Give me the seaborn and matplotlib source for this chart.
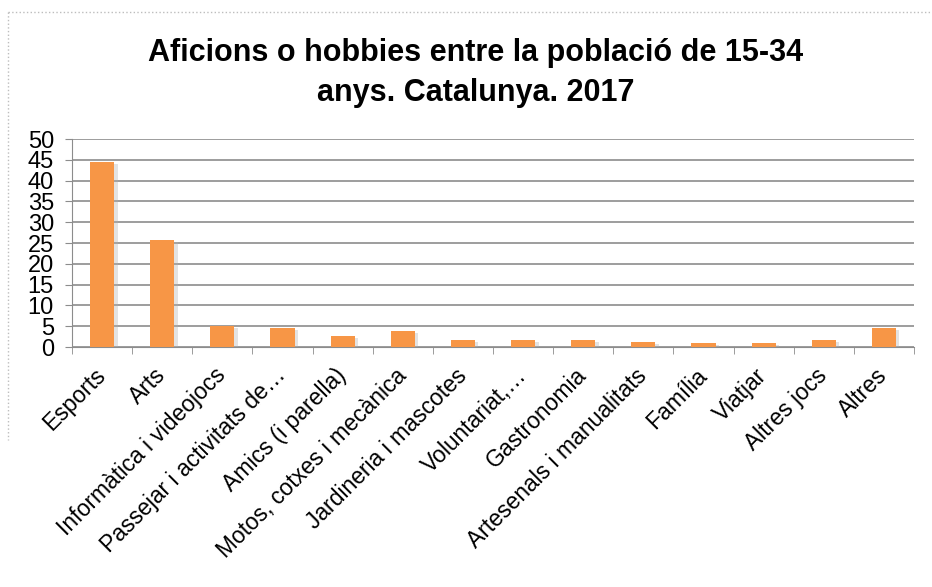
import matplotlib
matplotlib.use("Agg")
import matplotlib.pyplot as plt
import matplotlib.patheffects as pe
from matplotlib.lines import Line2D
import seaborn as sns
import pandas as pd
import numpy as np

categories = ["Esports", "Arts", "Informàtica i videojocs", "Passejar i activitats de…",
              "Amics (i parella)", "Motos, cotxes i mecànica", "Jardineria i mascotes",
              "Voluntariat,…", "Gastronomia", "Artesenals i manualitats", "Família",
              "Viatjar", "Altres jocs", "Altres"]
values = [44.5, 25.8, 5.1, 4.6, 2.7, 3.9, 1.8, 1.8, 1.8, 1.3, 1.0, 1.0, 1.8, 4.6]
yticks = [0, 5, 10, 15, 20, 25, 30, 35, 40, 45, 50]
title = "Aficions o hobbies entre la població de 15-34\nanys. Catalunya. 2017"

sns.set_style("white")
plt.rcParams['font.family'] = ['Liberation Sans', 'DejaVu Sans']
plt.rcParams['text.color'] = 'black'

df = pd.DataFrame({"cat": categories, "val": values})

W, H = 932, 587
fig = plt.figure(figsize=(W / 100, H / 100), dpi=100)
ax = fig.add_axes([72 / W, 1 - 347 / H, 842 / W, 208 / H])

sns.barplot(data=df, x="cat", y="val", color="#F79646", saturation=1, width=0.4, ax=ax, zorder=3)
for p in ax.patches:
    p.set_path_effects([pe.SimplePatchShadow(offset=(2.5, -1.5), shadow_rgbFace="#b0b0b0", alpha=0.35), pe.Normal()])
    p.set_edgecolor("none")

ax.set_ylim(0, 50)
ax.set_xlim(-0.5, len(categories) - 0.5)
ax.set_yticks(yticks)
ax.set_yticklabels([str(t) for t in yticks], fontsize=17, color="black")
ax.yaxis.grid(True, color="#8c8c8c", linewidth=1.2, zorder=0)
ax.set_axisbelow(True)
for s in ["top", "right"]:
    ax.spines[s].set_visible(False)
ax.spines["left"].set_color("#8c8c8c")
ax.spines["bottom"].set_color("#8c8c8c")
ax.tick_params(axis="y", length=5, color="#8c8c8c", pad=8, direction="out", left=True)

ax.set_xticks(np.arange(len(categories)))
ax.set_xticklabels(categories, rotation=45, ha="right", va="center", rotation_mode="anchor",
                   fontsize=16.5, color="black")
ax.tick_params(axis="x", which="major", length=0, pad=18)
ax.set_xticks(np.arange(-0.5, len(categories) + 0.5, 1), minor=True)
ax.tick_params(axis="x", which="minor", length=5, color="#8c8c8c", bottom=True, direction="out")
ax.set_xlabel("")
ax.set_ylabel("")

fig.text(476 / W, 1 - 73 / H, title, ha="center", va="center", fontsize=22, fontweight="bold",
         linespacing=1.4, color="black")

# chart area border (top and left, dotted light grey)
fig.add_artist(Line2D([8 / W, 1], [1 - 12 / H, 1 - 12 / H], transform=fig.transFigure,
                      color="#bdbdbd", linewidth=1, linestyle=":"))
fig.add_artist(Line2D([8 / W, 8 / W], [1 - 12 / H, 1 - 440 / H], transform=fig.transFigure,
                      color="#bdbdbd", linewidth=1, linestyle=":"))

fig.savefig("out.png", dpi=100)
